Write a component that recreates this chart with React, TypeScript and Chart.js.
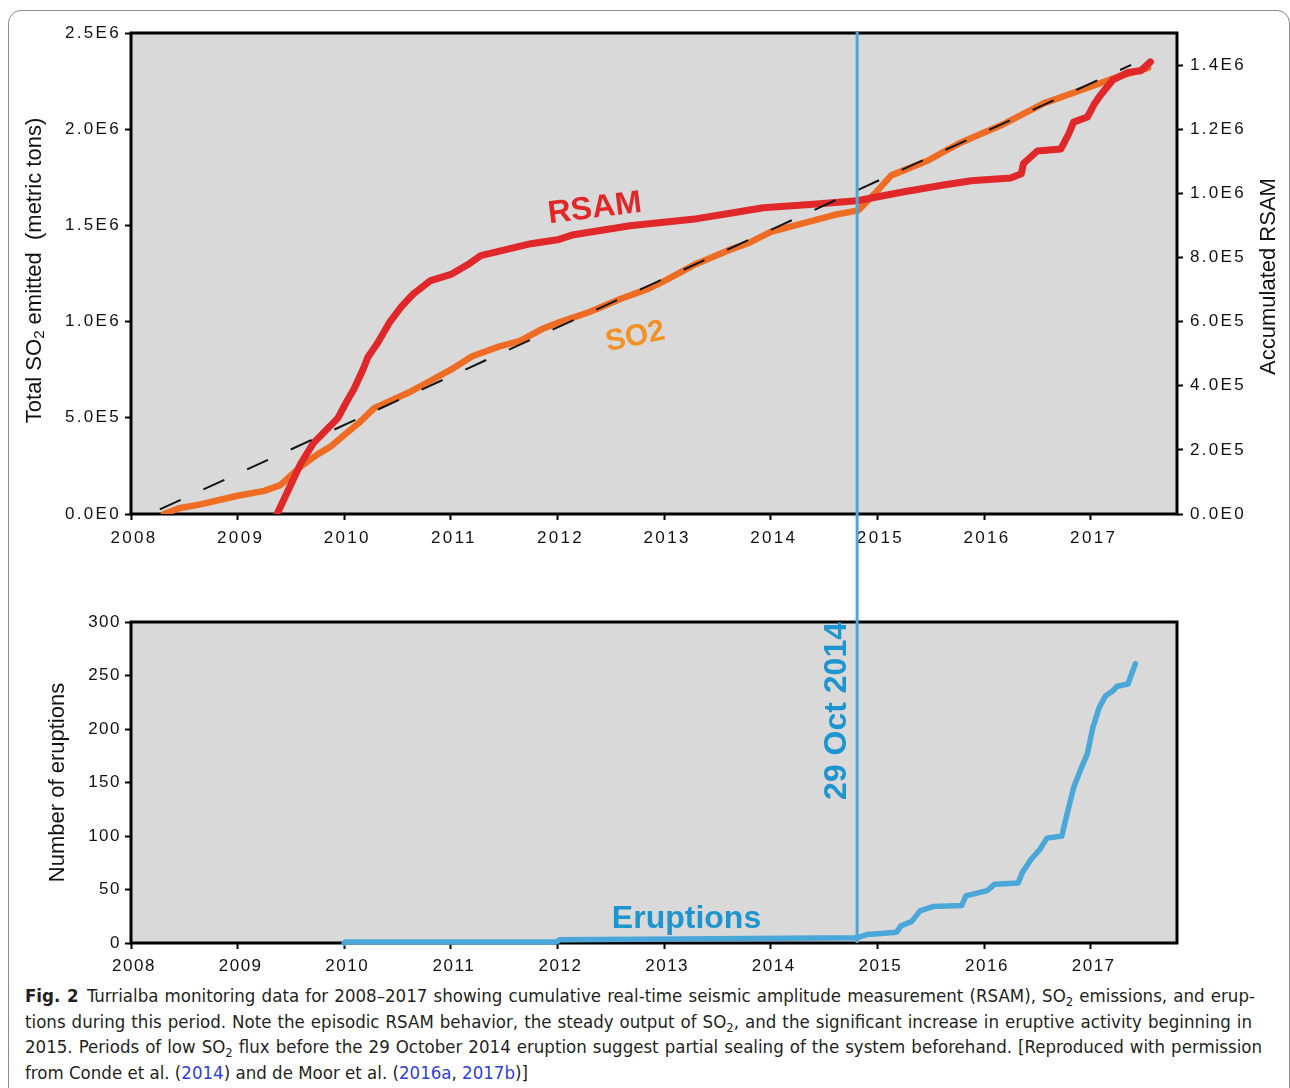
import React, { useEffect, useRef } from 'react';
import { Chart, registerables } from 'chart.js';

Chart.register(...registerables);

// ---------- data ----------
const YEAR_TICKS = [2008, 2009, 2010, 2011, 2012, 2013, 2014, 2015, 2016, 2017];
const YEAR_MIN = 2008;
const YEAR_MAX = 2017.81;

const SO2_YEARS = [
  2008.31, 2008.45, 2008.65, 2009.0, 2009.25, 2009.4, 2009.5, 2009.6, 2009.75, 2009.87,
  2010.0, 2010.15, 2010.28, 2010.4, 2010.6, 2010.8, 2011.0, 2011.2, 2011.45, 2011.65,
  2011.85, 2012.0, 2012.3, 2012.6, 2012.85, 2013.0, 2013.3, 2013.6, 2013.8, 2014.0,
  2014.3, 2014.6, 2014.82, 2014.98, 2015.13, 2015.47, 2015.78, 2016.16, 2016.56, 2017.03,
  2017.26, 2017.54,
];
const SO2_TONS = [
  0, 30000, 50000, 95000, 120000, 150000, 200000, 250000, 310000, 350000,
  410000, 480000, 550000, 580000, 630000, 690000, 750000, 820000, 870000, 900000,
  960000, 993000, 1050000, 1120000, 1170000, 1210000, 1300000, 1370000, 1410000, 1466000,
  1510000, 1555000, 1578000, 1668000, 1760000, 1836000, 1930000, 2020000, 2134000, 2227000,
  2273000, 2319000,
];

const RSAM_YEARS = [
  2009.37, 2009.59, 2009.71, 2009.94, 2010.03, 2010.09, 2010.18, 2010.22, 2010.31, 2010.43,
  2010.53, 2010.65, 2010.81, 2011.0, 2011.16, 2011.28, 2011.75, 2012.0, 2012.15, 2012.68,
  2013.31, 2013.62, 2013.93, 2014.4, 2014.81, 2015.25, 2015.62, 2015.88, 2016.25, 2016.35,
  2016.37, 2016.5, 2016.72, 2016.79, 2016.84, 2016.97, 2017.03, 2017.09, 2017.21, 2017.35,
  2017.47, 2017.56,
];
const RSAM_VALUES = [
  0, 156000, 221000, 299000, 355000, 389000, 454000, 488000, 532000, 600000,
  644000, 687000, 728000, 747000, 778000, 806000, 843000, 855000, 871000, 899000,
  921000, 938000, 955000, 966000, 977000, 1005000, 1026000, 1039000, 1048000, 1061000,
  1093000, 1132000, 1138000, 1182000, 1222000, 1238000, 1276000, 1305000, 1354000, 1377000,
  1382000, 1410000,
];

const FIT_YEARS = [2008.27, 2017.38];
const FIT_TONS = [24000, 2334000];

const SO2_TICKS = [0, 500000, 1000000, 1500000, 2000000, 2500000];
const SO2_TICK_LABELS = ['0.0E0', '5.0E5', '1.0E6', '1.5E6', '2.0E6', '2.5E6'];
const SO2_MAX = 2500000;

const RSAM_TICKS = [0, 200000, 400000, 600000, 800000, 1000000, 1200000, 1400000];
const RSAM_TICK_LABELS = ['0.0E0', '2.0E5', '4.0E5', '6.0E5', '8.0E5', '1.0E6', '1.2E6', '1.4E6'];
const RSAM_MAX = 1500000;

const ERUPTION_YEARS = [
  2010.0, 2010.01, 2011.99, 2012.02, 2013.5, 2014.81, 2014.91, 2015.18, 2015.22, 2015.32,
  2015.4, 2015.52, 2015.79, 2015.83, 2016.03, 2016.1, 2016.32, 2016.36, 2016.44, 2016.52,
  2016.59, 2016.73, 2016.77, 2016.84, 2016.91, 2016.97, 2017.02, 2017.08, 2017.14, 2017.2,
  2017.25, 2017.35, 2017.39, 2017.42,
];
const ERUPTION_COUNTS = [
  0, 1, 1, 3, 4, 5, 8, 10, 16, 20,
  30, 34, 35, 44, 49, 55, 56, 66, 78, 87,
  98, 100, 117, 145, 163, 177, 201, 220, 231, 235,
  240, 242, 253, 261,
];
const COUNT_TICKS = [0, 50, 100, 150, 200, 250, 300];
const COUNT_MAX = 300;

const EVENT_YEAR = 2014.81;
const EVENT_LABEL = '29 Oct 2014';

// label anchors in data coordinates
const RSAM_LABEL = { text: 'RSAM', year: 2012.35, value: 952000 };
const SO2_LABEL = { text: 'SO2', year: 2012.73, value: 920000 };
const ERUPTION_LABEL = { text: 'Eruptions', year: 2013.21, value: 14 };

// ---------- styles ----------
const FONT = '"Liberation Sans", Arial, sans-serif';
const RED = '#e0282a';
const ORANGE = '#ee6c23';
const ORANGE_TEXT = '#f29126';
const BLUE_LINE = '#4aa7d8';
const BLUE_TEXT = '#1f95cf';
const PLOT_BG = '#d9d9d9';

const W = 1290;
const TOP_H = 568;
const BOT_TOP = 568;
const BOT_H = 410;

function labelFor(v: number, ticks: number[], labels: string[]) {
  const i = ticks.findIndex((t) => Math.abs(t - v) < 1e-6);
  return i >= 0 ? labels[i] : '';
}

function tickGrid() {
  return {
    display: true,
    drawOnChartArea: false,
    drawTicks: true,
    tickLength: 6,
    tickWidth: 2,
    tickColor: '#000',
  };
}

function drawRich(ctx: CanvasRenderingContext2D, parts: { t: string; font: string; dy?: number }[], x: number, y: number, angle: number, color: string) {
  ctx.save();
  ctx.letterSpacing = '0px';
  ctx.translate(x, y);
  ctx.rotate(angle);
  ctx.fillStyle = color;
  ctx.textBaseline = 'middle';
  ctx.textAlign = 'left';
  let total = 0;
  const widths = parts.map((p) => {
    ctx.font = p.font;
    const w = ctx.measureText(p.t).width;
    total += w;
    return w;
  });
  let cx = -total / 2;
  parts.forEach((p, i) => {
    ctx.font = p.font;
    ctx.fillText(p.t, cx, p.dy || 0);
    cx += widths[i];
  });
  ctx.restore();
}

function drawText(ctx: CanvasRenderingContext2D, text: string, x: number, y: number, angleDeg: number, font: string, color: string, align: CanvasTextAlign = 'center', baseline: CanvasTextBaseline = 'middle') {
  ctx.save();
  ctx.letterSpacing = '0px';
  ctx.translate(x, y);
  ctx.rotate((angleDeg * Math.PI) / 180);
  ctx.font = font;
  ctx.fillStyle = color;
  ctx.textAlign = align;
  ctx.textBaseline = baseline;
  ctx.fillText(text, 0, 0);
  ctx.restore();
}

const framePlugin = (spacing: string) => ({
  id: 'frame',
  beforeDraw(chart: any) {
    const { ctx, chartArea: a } = chart;
    ctx.letterSpacing = spacing;
    ctx.save();
    ctx.fillStyle = PLOT_BG;
    ctx.fillRect(a.left, a.top, a.right - a.left, a.bottom - a.top);
    ctx.restore();
  },
  beforeDatasetsDraw(chart: any) {
    const { ctx, chartArea: a } = chart;
    ctx.save();
    ctx.strokeStyle = '#000';
    ctx.lineWidth = 3;
    ctx.strokeRect(a.left, a.top, a.right - a.left, a.bottom - a.top);
    ctx.restore();
  },
});

function xScale(height: number, pad: number) {
  return {
    type: 'linear',
    min: YEAR_MIN,
    max: YEAR_MAX,
    afterBuildTicks: (s: any) => {
      s.ticks = YEAR_TICKS.map((v) => ({ value: v }));
    },
    afterFit: (s: any) => {
      s.height = height;
    },
    grid: tickGrid(),
    border: { display: false },
    ticks: {
      color: '#111',
      font: { family: FONT, size: 17 },
      padding: pad,
      labelOffset: 3,
      maxRotation: 0,
      autoSkip: false,
      callback: (v: number) => String(v),
    },
  };
}

export default function App() {
  const topRef = useRef<HTMLCanvasElement | null>(null);
  const botRef = useRef<HTMLCanvasElement | null>(null);

  useEffect(() => {
    const top = new Chart(topRef.current as HTMLCanvasElement, {
      type: 'line',
      data: {
        datasets: [
          {
            label: 'Linear fit',
            data: FIT_YEARS.map((x, i) => ({ x, y: FIT_TONS[i] })),
            yAxisID: 'y',
            borderColor: '#151515',
            borderWidth: 2,
            borderDash: [23, 25],
            pointRadius: 0,
            tension: 0,
          },
          {
            label: 'RSAM',
            data: RSAM_YEARS.map((x, i) => ({ x, y: RSAM_VALUES[i] })),
            yAxisID: 'y2',
            borderColor: RED,
            borderWidth: 7,
            borderCapStyle: 'round',
            borderJoinStyle: 'round',
            pointRadius: 0,
            tension: 0,
          },
          {
            label: 'SO2',
            data: SO2_YEARS.map((x, i) => ({ x, y: SO2_TONS[i] })),
            yAxisID: 'y',
            borderColor: ORANGE,
            borderWidth: 6.5,
            borderCapStyle: 'round',
            borderJoinStyle: 'round',
            pointRadius: 0,
            tension: 0,
          },
        ],
      },
      options: {
        responsive: false,
        animation: false,
        devicePixelRatio: 1,
        layout: { padding: { top: 33, left: 0, right: 0, bottom: 0 } },
        plugins: { legend: { display: false }, tooltip: { enabled: false } },
        scales: {
          x: xScale(TOP_H - 514, 8),
          y: {
            type: 'linear',
            position: 'left',
            min: 0,
            max: SO2_MAX,
            afterBuildTicks: (s: any) => {
              s.ticks = SO2_TICKS.map((v) => ({ value: v }));
            },
            afterFit: (s: any) => {
              s.width = 131;
            },
            grid: tickGrid(),
            border: { display: false },
            ticks: {
              color: '#111',
              font: { family: FONT, size: 17 },
              padding: 4,
              callback: (v: number) => labelFor(v, SO2_TICKS, SO2_TICK_LABELS),
            },
          },
          y2: {
            type: 'linear',
            position: 'right',
            min: 0,
            max: RSAM_MAX,
            afterBuildTicks: (s: any) => {
              s.ticks = RSAM_TICKS.map((v) => ({ value: v }));
            },
            afterFit: (s: any) => {
              s.width = W - 1177;
            },
            grid: tickGrid(),
            border: { display: false },
            ticks: {
              color: '#111',
              font: { family: FONT, size: 17 },
              padding: 7,
              callback: (v: number) => labelFor(v, RSAM_TICKS, RSAM_TICK_LABELS),
            },
          },
        },
      } as any,
      plugins: [
        framePlugin('2.3px'),
        {
          id: 'topDecor',
          afterDatasetsDraw(chart: any) {
            const { ctx, chartArea: a, scales } = chart;
            const ex = scales.x.getPixelForValue(EVENT_YEAR);
            ctx.save();
            ctx.strokeStyle = BLUE_LINE;
            ctx.lineWidth = 3;
            ctx.beginPath();
            ctx.moveTo(ex, a.top - 1);
            ctx.lineTo(ex, chart.height);
            ctx.stroke();
            ctx.restore();

            drawText(ctx, RSAM_LABEL.text, scales.x.getPixelForValue(RSAM_LABEL.year), scales.y2.getPixelForValue(RSAM_LABEL.value), -7, `bold 32px ${FONT}`, RED);
            drawText(ctx, SO2_LABEL.text, scales.x.getPixelForValue(SO2_LABEL.year), scales.y.getPixelForValue(SO2_LABEL.value), -12, `bold 30px ${FONT}`, ORANGE_TEXT);

            const midY = (a.top + a.bottom) / 2;
            drawRich(
              ctx,
              [
                { t: 'Total SO', font: `22px ${FONT}` },
                { t: '2', font: `15px ${FONT}`, dy: 5 },
                { t: ' emitted  (metric tons)', font: `22px ${FONT}` },
              ],
              a.left - 96,
              midY - 3,
              -Math.PI / 2,
              '#111'
            );
            drawText(ctx, 'Accumulated RSAM', a.right + 92, midY + 3, -90, `22px ${FONT}`, '#111');
          },
        },
      ],
    });

    const bot = new Chart(botRef.current as HTMLCanvasElement, {
      type: 'line',
      data: {
        datasets: [
          {
            label: 'Eruptions',
            data: ERUPTION_YEARS.map((x, i) => ({ x, y: ERUPTION_COUNTS[i] })),
            borderColor: BLUE_LINE,
            borderWidth: 5.5,
            borderCapStyle: 'round',
            borderJoinStyle: 'round',
            pointRadius: 0,
            tension: 0,
            clip: 6,
          },
        ],
      },
      options: {
        responsive: false,
        animation: false,
        devicePixelRatio: 1,
        layout: { padding: { top: 622 - BOT_TOP, left: 0, right: W - 1177, bottom: 0 } },
        plugins: { legend: { display: false }, tooltip: { enabled: false } },
        scales: {
          x: xScale(BOT_H - (943 - BOT_TOP), 7),
          y: {
            type: 'linear',
            position: 'left',
            min: 0,
            max: COUNT_MAX,
            afterBuildTicks: (s: any) => {
              s.ticks = COUNT_TICKS.map((v) => ({ value: v }));
            },
            afterFit: (s: any) => {
              s.width = 131;
            },
            grid: tickGrid(),
            border: { display: false },
            ticks: {
              color: '#111',
              font: { family: FONT, size: 17 },
              padding: 4,
              callback: (v: number) => String(v),
            },
          },
        },
      } as any,
      plugins: [
        framePlugin('1.5px'),
        {
          id: 'botDecor',
          afterDatasetsDraw(chart: any) {
            const { ctx, chartArea: a, scales } = chart;
            const ex = scales.x.getPixelForValue(EVENT_YEAR);
            ctx.save();
            ctx.strokeStyle = BLUE_LINE;
            ctx.lineWidth = 3;
            ctx.beginPath();
            ctx.moveTo(ex, 0);
            ctx.lineTo(ex, a.bottom);
            ctx.stroke();
            ctx.restore();

            drawText(ctx, EVENT_LABEL, ex - 11, scales.y.getPixelForValue(COUNT_MAX), -90, `bold 32px ${FONT}`, BLUE_TEXT, 'right', 'alphabetic');
            drawText(ctx, ERUPTION_LABEL.text, scales.x.getPixelForValue(ERUPTION_LABEL.year), scales.y.getPixelForValue(ERUPTION_LABEL.value), 0, `bold 32px ${FONT}`, BLUE_TEXT, 'center', 'alphabetic');
            drawText(ctx, 'Number of eruptions', a.left - 73, (a.top + a.bottom) / 2, -90, `22px ${FONT}`, '#111');
          },
        },
      ],
    });

    return () => {
      top.destroy();
      bot.destroy();
    };
  }, []);

  const sub = { fontSize: '0.7em', verticalAlign: '-0.3em', lineHeight: 0 } as React.CSSProperties;
  const link = { color: '#2f3ed8' } as React.CSSProperties;
  const lineStyle = (w: number | null) =>
    (w
      ? { width: w, textAlign: 'justify', textAlignLast: 'justify', whiteSpace: 'nowrap', height: 25.7 }
      : { whiteSpace: 'nowrap', height: 25.7 }) as React.CSSProperties;

  return (
    <div style={{ position: 'absolute', left: 0, top: 0, width: W, height: 1088, overflow: 'hidden', background: '#fff' }}>
      <div
        style={{
          position: 'absolute',
          left: 8,
          top: 10,
          width: 1280,
          height: 1200,
          border: '1px solid #8c8c8c',
          borderRadius: 13,
        }}
      />
      <canvas ref={topRef} width={W} height={TOP_H} style={{ position: 'absolute', left: 0, top: 0 }} />
      <canvas ref={botRef} width={W} height={BOT_H} style={{ position: 'absolute', left: 0, top: BOT_TOP }} />
      <div
        style={{
          position: 'absolute',
          left: 25,
          top: 983,
          fontFamily: '"Liberation Sans Narrow", "Arial Narrow", "DejaVu Sans Condensed", sans-serif',
          fontSize: 18.5,
          lineHeight: '25.7px',
          color: '#231f20',
        }}
      >
        <div style={lineStyle(1230)}>
          <b>Fig. 2</b>{'\u2002'}Turrialba monitoring data for 2008–2017 showing cumulative real-time seismic amplitude measurement (RSAM), SO<sub style={sub}>2</sub> emissions, and erup-
        </div>
        <div style={lineStyle(1227)}>
          tions during this period. Note the episodic RSAM behavior, the steady output of SO<sub style={sub}>2</sub>, and the significant increase in eruptive activity beginning in
        </div>
        <div style={lineStyle(1237)}>
          2015. Periods of low SO<sub style={sub}>2</sub> flux before the 29 October 2014 eruption suggest partial sealing of the system beforehand. [Reproduced with permission
        </div>
        <div style={lineStyle(null)}>
          from Conde et al. (<span style={link}>2014</span>) and de Moor et al. (<span style={link}>2016a</span>, <span style={link}>2017b</span>)]
        </div>
      </div>
    </div>
  );
}
